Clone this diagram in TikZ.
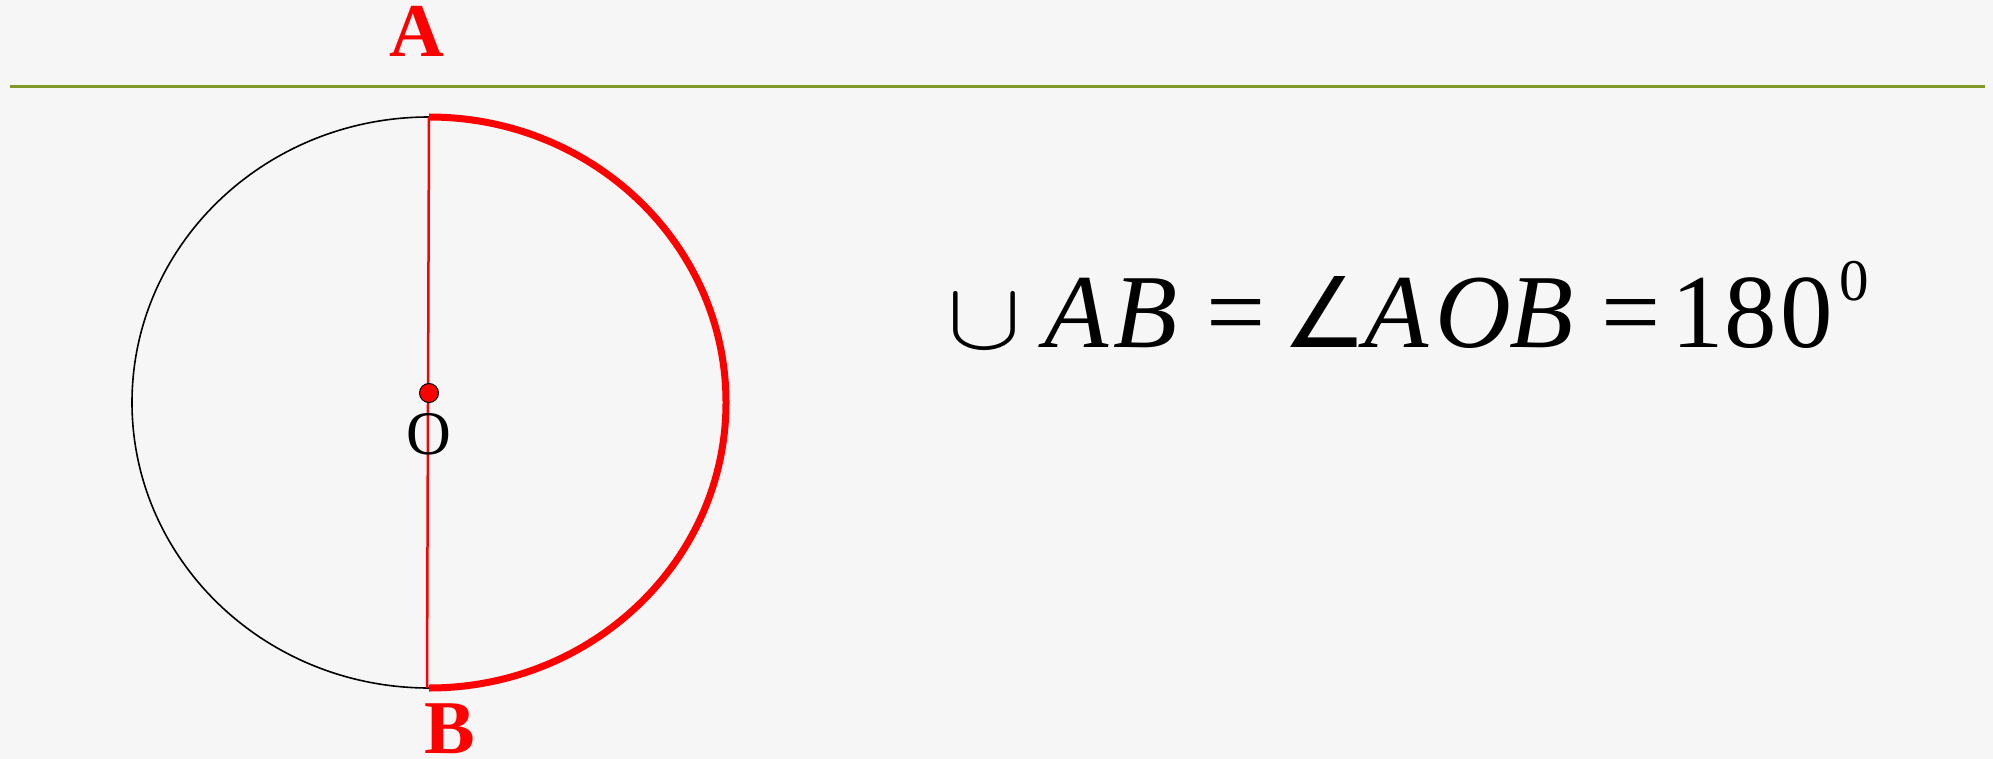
\documentclass[tikz,border=0pt]{standalone}
\usepackage{fontspec}
\setmainfont{Liberation Serif}
\newfontfamily\djv{DejaVu Sans}
\definecolor{olive1}{RGB}{130,152,38}
\definecolor{bg}{RGB}{246,246,246}
\tikzset{
  lbl/.style={text=red, font=\fontsize{76}{80}\selectfont\bfseries, inner sep=0pt},
  thin circ/.style={draw=black, line width=1.6pt},
  red arc/.style={draw=red, line width=7pt},
  diam/.style={draw=red, line width=2.5pt},
  eqtok/.style={anchor=base, inner sep=0pt, font=\fontsize{105}{120}\selectfont},
  eqit/.style={eqtok, font=\fontsize{105}{120}\selectfont\itshape},
}
\begin{document}
\begin{tikzpicture}[x=1pt,y=-1pt]
\fill[bg] (0,0) rectangle (1993,759);
\useasboundingbox (0,0) rectangle (1993,759);
% top olive line
\coordinate (L1) at (10,87);
\coordinate (L2) at (1985,87);
\draw[olive1, line width=3pt] (L1) -- (L2);
% circle
\coordinate (C) at (429,402.5);
\coordinate (PA) at (429,117);
\coordinate (PB) at (427,688);
\draw[thin circ] (C) ellipse[x radius=297, y radius=285.5];
\draw[red arc] (PA) arc[start angle=-90, end angle=90, x radius=297, y radius=285.5];
\draw[diam] (PA) -- (PB);
\coordinate (Oc) at (429,393);
\filldraw[fill=red, draw=black, line width=1pt] (Oc) circle[radius=9.5];
\node[inner sep=0pt, font=\fontsize{62}{70}\selectfont] (O) at (429,434) {O};
\node[lbl] (A) at (417,31) {A};
\node[lbl] (B) at (450,729) {B};
% formula
\node[eqtok] (cup) at (985,348) {\resizebox{74pt}{53pt}{\normalsize$\cup$}};
\node[eqit] (a1) at (1077,347) {A};
\node[eqit] (b1) at (1146,347) {B};
\node[eqtok] (eq1) at (1236,347) {=};
\node[eqtok] (ang) at (1325,347) {\resizebox{85pt}{71pt}{\djv ∠}};
\node[eqit] (a2) at (1397,347) {A};
\node[eqit] (o2) at (1473,347) {O};
\node[eqit] (b2) at (1542,347) {B};
\node[eqtok] (eq2) at (1631,347) {=};
\node[eqtok] (d1) at (1698,347) {1};
\node[eqtok] (d8) at (1751,347) {8};
\node[eqtok] (d0) at (1807,347) {0};
\node[anchor=base, inner sep=0pt, font=\fontsize{59}{64}\selectfont] (sup) at (1854,300) {0};
\end{tikzpicture}
\end{document}
